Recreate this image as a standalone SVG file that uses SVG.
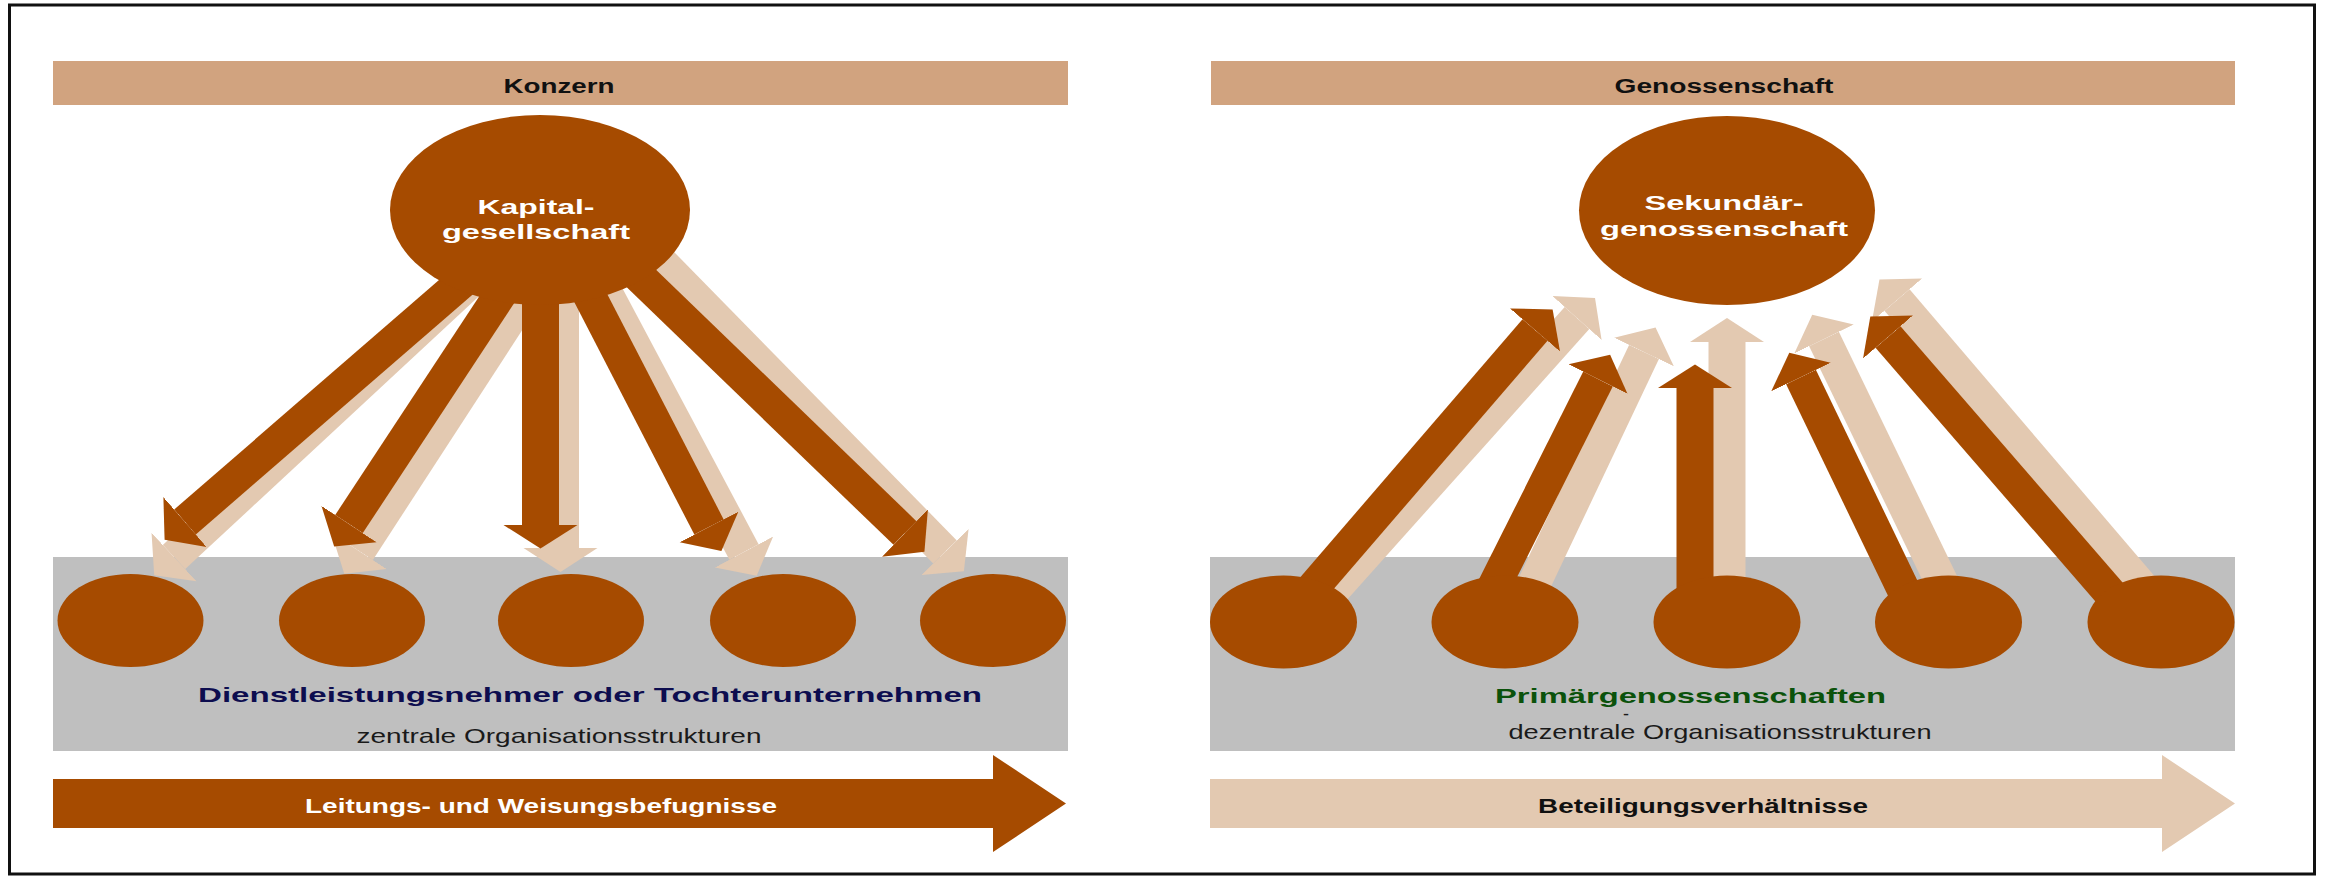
<svg xmlns="http://www.w3.org/2000/svg" width="2325" height="878" viewBox="0 0 2325 878">
<style>
.t{font-family:"Liberation Sans",Arial,Helvetica,sans-serif;text-anchor:middle}
.b{font-weight:bold}
.hdr{fill:#D1A37F}
.band{fill:#BFBFBF}
.dk{fill:#A64B00}
.lt{fill:#E3C9B1}
.cd{stroke:#A64B00;fill:none}
.cl{stroke:#E3C9B1;fill:none}
.dg{stroke-width:33}
.vt{stroke-width:37}
</style>
<defs>
<marker id="hdD" markerUnits="userSpaceOnUse" viewBox="0 -40 32 80" markerWidth="32" markerHeight="80" refX="0" refY="0" orient="auto"><path d="M0,-33 L27,0 L0,33 Z" fill="#A64B00"/></marker>
<marker id="hdV" markerUnits="userSpaceOnUse" viewBox="0 -40 32 80" markerWidth="32" markerHeight="80" refX="0" refY="0" orient="auto"><path d="M0,-37 L23.5,0 L0,37 Z" fill="#A64B00"/></marker>
<marker id="hlD" markerUnits="userSpaceOnUse" viewBox="0 -40 32 80" markerWidth="32" markerHeight="80" refX="0" refY="0" orient="auto"><path d="M0,-33 L27,0 L0,33 Z" fill="#E3C9B1"/></marker>
<marker id="hlV" markerUnits="userSpaceOnUse" viewBox="0 -40 32 80" markerWidth="32" markerHeight="80" refX="0" refY="0" orient="auto"><path d="M0,-37 L24,0 L0,37 Z" fill="#E3C9B1"/></marker>
</defs>
<rect x="0" y="0" width="2325" height="878" fill="#FFFFFF"/>
<rect id="frame" x="9.5" y="5" width="2305" height="869" fill="none" stroke="#111111" stroke-width="3"/>

<g id="header-konzern">
<rect class="hdr" x="53" y="61" width="1015" height="44"/>
<text class="t b" x="559" y="92.5" font-size="20" fill="#111111" textLength="111" lengthAdjust="spacingAndGlyphs">Konzern</text>
</g>
<g id="header-genossenschaft">
<rect class="hdr" x="1211" y="61" width="1024" height="44"/>
<text class="t b" x="1724" y="92.5" font-size="20" fill="#111111" textLength="219" lengthAdjust="spacingAndGlyphs">Genossenschaft</text>
</g>

<g id="band-left"><rect class="band" x="53" y="557" width="1015" height="194"/></g>
<g id="band-right"><rect class="band" x="1210" y="557" width="1025" height="194"/></g>

<g id="connectors">
<g id="left-light">
<line class="cl dg" x1="482" y1="271" x2="174" y2="557" marker-end="url(#hlD)"/>
<line class="cl dg" x1="539" y1="274" x2="359" y2="551" marker-end="url(#hlD)"/>
<line class="cl vt" x1="560.5" y1="290" x2="560.5" y2="548" marker-end="url(#hlV)"/>
<line class="cl dg" x1="594" y1="270" x2="744" y2="552" marker-end="url(#hlD)"/>
<line class="cl dg" x1="651" y1="252" x2="945" y2="552" marker-end="url(#hlD)"/>
</g>
<g id="left-dark">
<line class="cd dg" x1="470" y1="275" x2="185" y2="522" marker-end="url(#hdD)"/>
<line class="cd dg" x1="513" y1="275" x2="349" y2="524" marker-end="url(#hdD)"/>
<line class="cd vt" x1="540.5" y1="280" x2="540.5" y2="525" marker-end="url(#hdV)"/>
<line class="cd dg" x1="584" y1="285" x2="709" y2="527" marker-end="url(#hdD)"/>
<line class="cd dg" x1="617" y1="255" x2="905" y2="533" marker-end="url(#hdD)"/>
</g>
<g id="right-light">
<line class="cl dg" x1="1305" y1="622" x2="1577" y2="318" marker-end="url(#hlD)"/>
<line class="cl dg" x1="1516" y1="622" x2="1644" y2="352" marker-end="url(#hlD)"/>
<line class="cl vt" x1="1727" y1="622" x2="1727" y2="342" marker-end="url(#hlV)"/>
<line class="cl dg" x1="1961" y1="622" x2="1824" y2="339" marker-end="url(#hlD)"/>
<line class="cl dg" x1="2172" y1="622" x2="1897" y2="300" marker-end="url(#hlD)"/>
</g>
<g id="right-dark">
<line class="cd dg" x1="1283.5" y1="622" x2="1535" y2="330" marker-end="url(#hdD)"/>
<line class="cd dg" x1="1476" y1="622" x2="1598" y2="379" marker-end="url(#hdD)"/>
<line class="cd vt" x1="1695" y1="622" x2="1695" y2="388" marker-end="url(#hdV)"/>
<line class="cd dg" x1="1919" y1="622" x2="1801" y2="377" marker-end="url(#hdD)"/>
<line class="cd dg" x1="2135" y1="622" x2="1888" y2="337" marker-end="url(#hdD)"/>
</g>
</g>

<g id="node-kapitalgesellschaft">
<ellipse class="dk" cx="540" cy="210" rx="150" ry="95"/>
<text class="t b" x="536" y="213.5" font-size="20" fill="#FFFFFF" textLength="117" lengthAdjust="spacingAndGlyphs">Kapital-</text>
<text class="t b" x="536" y="238.5" font-size="20" fill="#FFFFFF" textLength="188" lengthAdjust="spacingAndGlyphs">gesellschaft</text>
</g>
<g id="node-sekundaergenossenschaft">
<ellipse class="dk" cx="1727" cy="210.5" rx="148" ry="94.5"/>
<text class="t b" x="1724" y="209.5" font-size="20" fill="#FFFFFF" textLength="159" lengthAdjust="spacingAndGlyphs">Sekundär-</text>
<text class="t b" x="1724" y="235.5" font-size="20" fill="#FFFFFF" textLength="248" lengthAdjust="spacingAndGlyphs">genossenschaft</text>
</g>

<g id="node-tochter-1"><ellipse class="dk" cx="130.5" cy="620.5" rx="73" ry="46.5"/></g>
<g id="node-tochter-2"><ellipse class="dk" cx="352" cy="620.5" rx="73" ry="46.5"/></g>
<g id="node-tochter-3"><ellipse class="dk" cx="571" cy="620.5" rx="73" ry="46.5"/></g>
<g id="node-tochter-4"><ellipse class="dk" cx="783" cy="620.5" rx="73" ry="46.5"/></g>
<g id="node-tochter-5"><ellipse class="dk" cx="993" cy="620.5" rx="73" ry="46.5"/></g>

<g id="node-primaer-1"><ellipse class="dk" cx="1283.5" cy="622" rx="73.5" ry="46.5"/></g>
<g id="node-primaer-2"><ellipse class="dk" cx="1505" cy="622" rx="73.5" ry="46.5"/></g>
<g id="node-primaer-3"><ellipse class="dk" cx="1727" cy="622" rx="73.5" ry="46.5"/></g>
<g id="node-primaer-4"><ellipse class="dk" cx="1948.5" cy="622" rx="73.5" ry="46.5"/></g>
<g id="node-primaer-5"><ellipse class="dk" cx="2161" cy="622" rx="73.5" ry="46.5"/></g>

<g id="label-left">
<text class="t b" x="590" y="702" font-size="21" fill="#0D0D4F" textLength="784" lengthAdjust="spacingAndGlyphs">Dienstleistungsnehmer oder Tochterunternehmen</text>
<text class="t" x="559" y="743" font-size="21" fill="#1A1A1A" textLength="405" lengthAdjust="spacingAndGlyphs">zentrale Organisationsstrukturen</text>
</g>
<g id="label-right">
<text class="t b" x="1690.5" y="702.5" font-size="21" fill="#0B520B" textLength="391" lengthAdjust="spacingAndGlyphs">Primärgenossenschaften</text>
<text class="t" x="1626" y="720" font-size="18" fill="#1A1A1A">-</text>
<text class="t" x="1720" y="739" font-size="21" fill="#1A1A1A" textLength="423" lengthAdjust="spacingAndGlyphs">dezentrale Organisationsstrukturen</text>
</g>

<g id="arrow-leitung">
<polygon class="dk" points="53,779 993,779 993,755 1066,803.5 993,852 993,828 53,828"/>
<text class="t b" x="541" y="812.5" font-size="20" fill="#FFFFFF" textLength="472" lengthAdjust="spacingAndGlyphs">Leitungs- und Weisungsbefugnisse</text>
</g>
<g id="arrow-beteiligung">
<polygon class="lt" points="1210,779 2162,779 2162,755 2235,803.5 2162,852 2162,828 1210,828"/>
<text class="t b" x="1703" y="812.5" font-size="20" fill="#111111" textLength="330" lengthAdjust="spacingAndGlyphs">Beteiligungsverhältnisse</text>
</g>
</svg>
